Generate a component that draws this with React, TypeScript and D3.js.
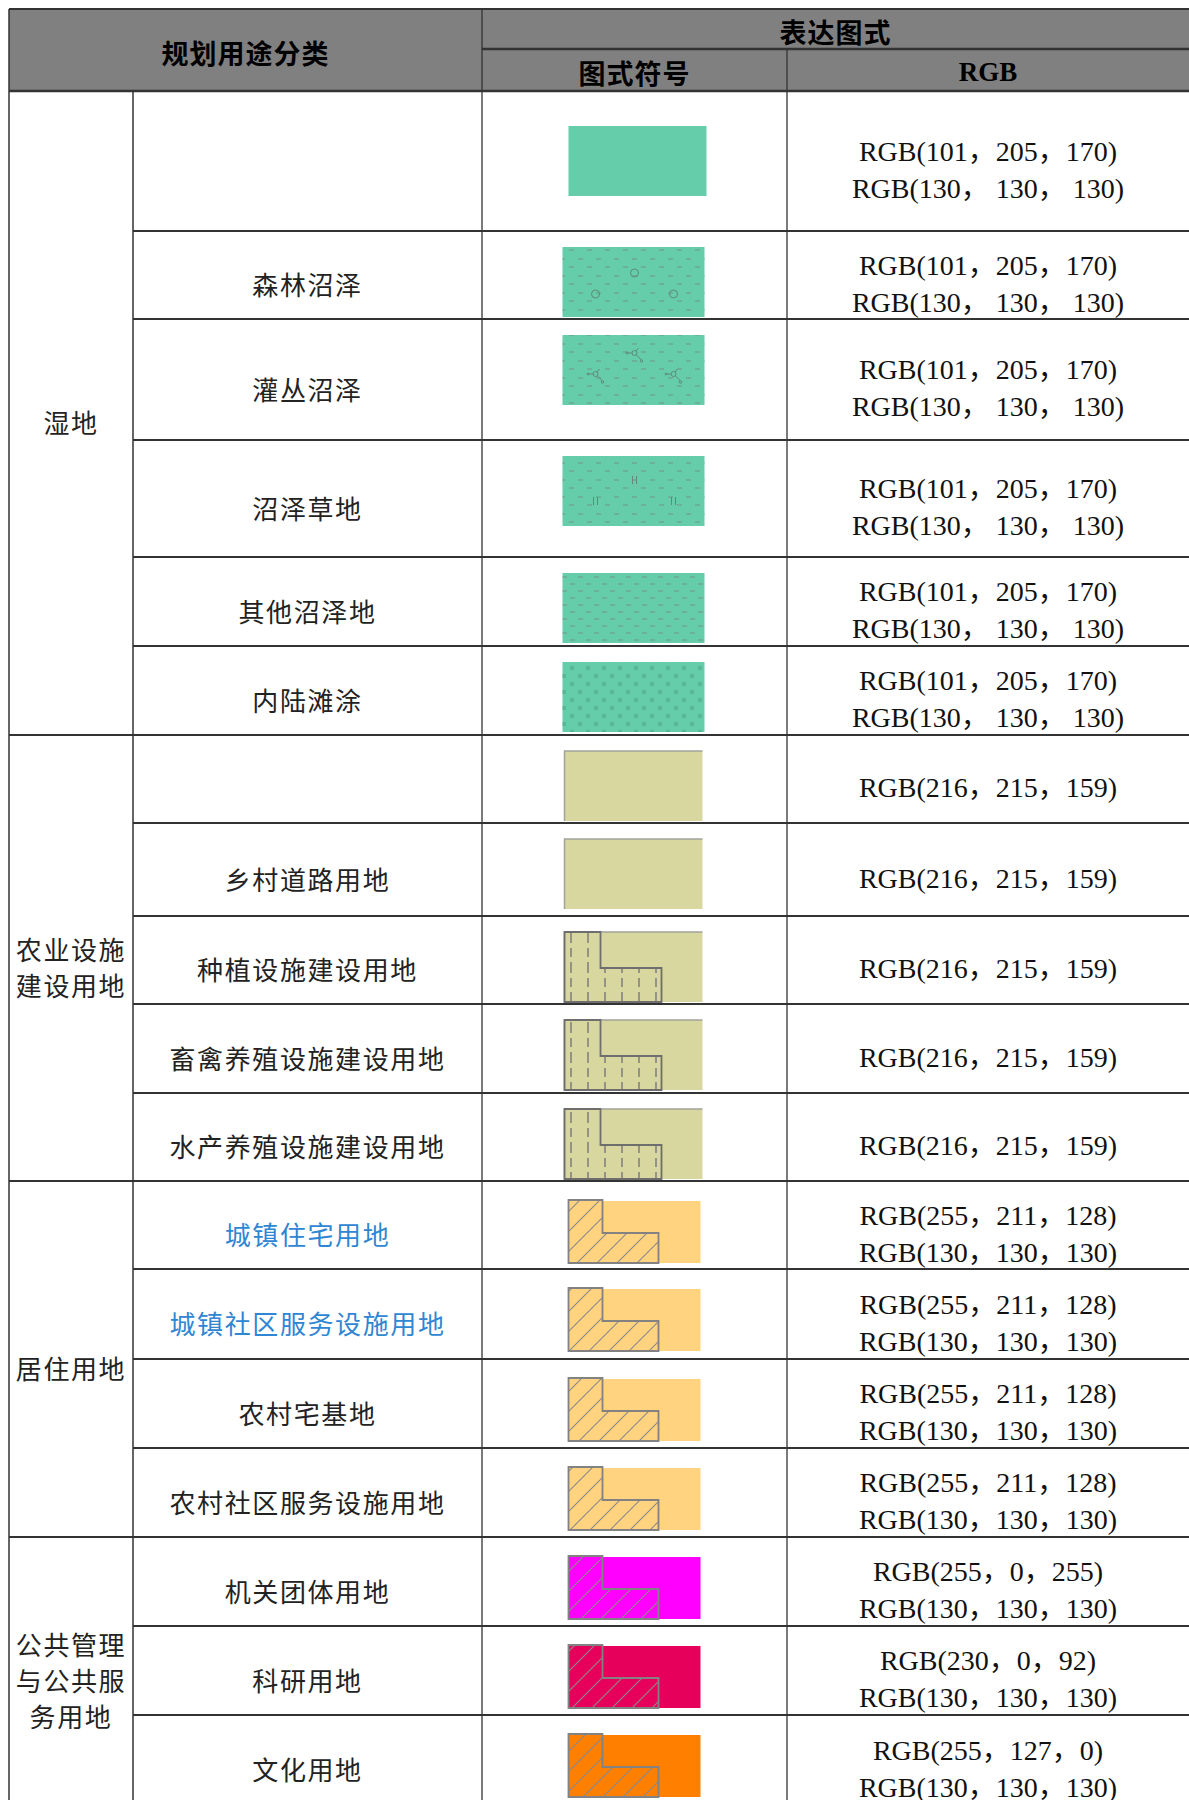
import * as d3 from 'd3'

// ---- table content ----
const headerMain = '规划用途分类'
const headerGroup = '表达图式'
const headerSymbol = '图式符号'
const headerRgb = 'RGB'

const groupNames = ['湿地', '农业设施\n建设用地', '居住用地', '公共管理\n与公共服\n务用地']
const groupSizes = [6, 5, 4, 3]

const subNames = [
  '', '森林沼泽', '灌丛沼泽', '沼泽草地', '其他沼泽地', '内陆滩涂',
  '', '乡村道路用地', '种植设施建设用地', '畜禽养殖设施建设用地', '水产养殖设施建设用地',
  '城镇住宅用地', '城镇社区服务设施用地', '农村宅基地', '农村社区服务设施用地',
  '机关团体用地', '科研用地', '文化用地',
]
const linkedNames = ['城镇住宅用地', '城镇社区服务设施用地']

const symbolKinds = [
  'wet', 'forest', 'shrub', 'grass', 'other', 'flat',
  'agri', 'agri', 'facility', 'facility', 'facility',
  'hatch', 'hatch', 'hatch', 'hatch',
  'hatch', 'hatch', 'hatch',
]

const fillRgb: [number, number, number][] = [
  [101, 205, 170], [101, 205, 170], [101, 205, 170], [101, 205, 170], [101, 205, 170], [101, 205, 170],
  [216, 215, 159], [216, 215, 159], [216, 215, 159], [216, 215, 159], [216, 215, 159],
  [255, 211, 128], [255, 211, 128], [255, 211, 128], [255, 211, 128],
  [255, 0, 255], [230, 0, 92], [255, 127, 0],
]

const rgbLines: string[][] = [
  ['RGB(101，205，170)', 'RGB(130， 130， 130)'],
  ['RGB(101，205，170)', 'RGB(130， 130， 130)'],
  ['RGB(101，205，170)', 'RGB(130， 130， 130)'],
  ['RGB(101，205，170)', 'RGB(130， 130， 130)'],
  ['RGB(101，205，170)', 'RGB(130， 130， 130)'],
  ['RGB(101，205，170)', 'RGB(130， 130， 130)'],
  ['RGB(216，215，159)'],
  ['RGB(216，215，159)'],
  ['RGB(216，215，159)'],
  ['RGB(216，215，159)'],
  ['RGB(216，215，159)'],
  ['RGB(255，211，128)', 'RGB(130，130，130)'],
  ['RGB(255，211，128)', 'RGB(130，130，130)'],
  ['RGB(255，211，128)', 'RGB(130，130，130)'],
  ['RGB(255，211，128)', 'RGB(130，130，130)'],
  ['RGB(255，0，255)', 'RGB(130，130，130)'],
  ['RGB(230，0，92)', 'RGB(130，130，130)'],
  ['RGB(255，127，0)', 'RGB(130，130，130)'],
]

// ---- layout ----
const W = 1189
const H = 1800
const colX = [9, 133, 482, 787, 1189]
const headerY = [9, 49, 91]
const rowHeights = [140, 88, 121, 117, 89, 89, 88, 93, 88, 89, 88, 88, 90, 89, 89, 89, 89, 90]

const cjk = "'Noto Sans CJK SC', sans-serif"
const serif = "'Liberation Serif', 'Noto Sans CJK SC', serif"
const lineColor = '#333'
const outline = 'rgb(130,130,130)'

const rowTops = [headerY[2], ...Array.from(d3.cumsum(rowHeights), v => headerY[2] + v)]
const groupStarts = [0, ...Array.from(d3.cumsum(groupSizes))]

const line = d3.line()

function Lines({ x, y, lines, size, family, fill = '#222', weight = 400, gap = 36, spacing = 0 }: any) {
  const y0 = y - ((lines.length - 1) * gap) / 2
  return (
    <text x={x} textAnchor="middle" dominantBaseline="central" fontFamily={family}
      fontSize={size} fontWeight={weight} fill={fill} letterSpacing={spacing}>
      {lines.map((t: string, i: number) => (
        <tspan key={i} x={x} y={y0 + i * gap}>{t}</tspan>
      ))}
    </text>
  )
}

function Swatch({ i }: { i: number }) {
  const kind = symbolKinds[i]
  const color = d3.rgb(...fillRgb[i]).toString()
  const top = rowTops[i]
  const h = rowHeights[i]
  const cx = (colX[2] + colX[3]) / 2

  if (kind === 'hatch') {
    const x0 = cx - 66, y0 = top + 19, w = 132, sh = 63
    const L: [number, number][] = [[0, 0], [34, 0], [34, 33], [90, 33], [90, sh], [0, sh]]
    const d = line(L.map(([a, b]) => [x0 + a, y0 + b]))! + 'Z'
    return (
      <g>
        <rect x={x0} y={y0 + 1} width={w} height={sh - 1} fill={color} />
        <clipPath id={`clipL${i}`}><path d={d} /></clipPath>
        <rect x={x0} y={y0} width={w} height={sh} fill="url(#hatch)" clipPath={`url(#clipL${i})`} />
        <path d={d} fill="none" stroke={outline} strokeWidth={1.8} />
      </g>
    )
  }

  if (kind === 'agri' || kind === 'facility') {
    const x0 = cx - 70, y0 = top + 16, w = 138, sh = 70
    const L: [number, number][] = [[0, 0], [36, 0], [36, 36], [97, 36], [97, sh], [0, sh]]
    const d = line(L.map(([a, b]) => [x0 + a, y0 + b]))! + 'Z'
    return (
      <g>
        <rect x={x0} y={y0} width={w} height={sh} fill={color} />
        <path d={`M${x0},${y0 + sh}V${y0}H${x0 + w}`} fill="none" stroke="#a3a39a" strokeWidth={1.5} />
        {kind === 'facility' && (
          <g>
            <clipPath id={`clipF${i}`}><path d={d} /></clipPath>
            <rect x={x0} y={y0} width={w} height={sh} fill="url(#facility)" clipPath={`url(#clipF${i})`} />
            <path d={d} fill="none" stroke="#6e6e6e" strokeWidth={1.8} />
          </g>
        )}
      </g>
    )
  }

  // wetland swatches
  const first = h > 130
  const sh = 70, w = first ? 138 : 142
  const x0 = first ? cx - 66 : cx - 72
  const y0 = first ? top + (h - sh) / 2 : top + 16
  const pat = kind === 'flat' ? 'url(#dots)' : kind === 'other' ? 'url(#dashB)' : 'url(#dashA)'
  const marks: [number, number][] = [[72, 26], [33, 47], [111, 47]]
  const mk = '#5f8a78'
  return (
    <g>
      <rect x={x0} y={y0} width={w} height={sh} fill={color} />
      {kind !== 'wet' && <rect x={x0} y={y0} width={w} height={sh} fill={pat} />}
      {kind === 'forest' && marks.map(([a, b], k) => (
        <circle key={k} cx={x0 + a} cy={y0 + b} r={4} fill="none" stroke={mk} strokeWidth={1} />
      ))}
      {kind === 'shrub' && marks.map(([a, b], k) => (
        <g key={k} transform={`translate(${x0 + a},${y0 + b - 8})`} stroke={mk} strokeWidth={1} fill="none">
          <circle r={2.5} />
          <path d="M-2.5,0H-7M1.5,-2L4,-5M2,2L5,5M5,5L7,7" />
          <circle cx={-7.5} cy={0} r={1} />
          <circle cx={7} cy={8} r={1.2} />
        </g>
      ))}
      {kind === 'grass' && marks.map(([a, b], k) => (
        <path key={k} d={`M${x0 + a - 2},${y0 + b - 6}v8M${x0 + a + 2},${y0 + b - 6}v8`} stroke={mk} strokeWidth={1} />
      ))}
    </g>
  )
}

export default function App() {
  const bodyRows = subNames.map((_, i) => i)
  const tableBottom = rowTops[rowTops.length - 1]

  return (
    <div style={{ position: 'absolute', left: 0, top: 0 }}>
      <svg width={W} height={H} style={{ display: 'block', background: '#fff' }}>
        <defs>
          <pattern id="hatch" patternUnits="userSpaceOnUse" width={20} height={20}>
            <path d="M-5,5L5,-5M0,20L20,0M15,25L25,15" stroke="#8a8a8a" strokeWidth={1.1} />
          </pattern>
          <pattern id="facility" patternUnits="userSpaceOnUse" width={17} height={30} x={1}>
            <path d="M9,2v11M9,18v9" stroke="#777" strokeWidth={1.4} />
          </pattern>
          <pattern id="dashA" patternUnits="userSpaceOnUse" width={18} height={17}>
            <path d="M2,4h5M11,12h5" stroke="#6f9584" strokeWidth={1} />
          </pattern>
          <pattern id="dashB" patternUnits="userSpaceOnUse" width={16} height={14}>
            <path d="M2,3h5M10,10h5" stroke="#6f9584" strokeWidth={1} />
          </pattern>
          <pattern id="dots" patternUnits="userSpaceOnUse" width={16} height={16}>
            <circle cx={4} cy={4} r={2.3} fill="#52b28f" opacity={0.8} />
            <circle cx={12} cy={12} r={2.3} fill="#52b28f" opacity={0.8} />
          </pattern>
        </defs>

        {/* header */}
        <rect x={colX[0]} y={headerY[0]} width={W - colX[0]} height={headerY[2] - headerY[0]} fill="#808080" />
        <Lines x={(colX[0] + colX[2]) / 2} y={(headerY[0] + headerY[2]) / 2 + 2} lines={[headerMain]}
          size={27} family={cjk} weight={700} fill="#000" spacing={1} />
        <Lines x={(colX[2] + colX[4]) / 2} y={(headerY[0] + headerY[1]) / 2 + 2} lines={[headerGroup]}
          size={27} family={cjk} weight={700} fill="#000" spacing={1} />
        <Lines x={(colX[2] + colX[3]) / 2} y={(headerY[1] + headerY[2]) / 2 + 2} lines={[headerSymbol]}
          size={27} family={cjk} weight={700} fill="#000" spacing={1} />
        <Lines x={(colX[3] + colX[4]) / 2} y={(headerY[1] + headerY[2]) / 2 + 2} lines={[headerRgb]}
          size={27} family={serif} weight={700} fill="#000" />

        {/* swatches */}
        {bodyRows.map(i => <Swatch key={i} i={i} />)}

        {/* texts */}
        {groupNames.map((g, k) => {
          const y = (rowTops[groupStarts[k]] + rowTops[groupStarts[k + 1]]) / 2 + 8
          return <Lines key={k} x={(colX[0] + colX[1]) / 2} y={y} lines={g.split('\n')}
            size={26} family={cjk} spacing={1.6} />
        })}
        {bodyRows.map(i => {
          const cy = rowTops[i] + rowHeights[i] / 2 + 8
          return (
            <g key={i}>
              {subNames[i] && (
                <Lines x={(colX[1] + colX[2]) / 2} y={cy} lines={[subNames[i]]} size={26} family={cjk}
                  spacing={1.6} fill={linkedNames.includes(subNames[i]) ? '#2f86d2' : '#222'} />
              )}
              <Lines x={(colX[3] + colX[4]) / 2} y={cy} lines={rgbLines[i]} size={28} family={serif}
                fill="#111" gap={37} />
            </g>
          )
        })}

        {/* grid lines */}
        <g stroke={lineColor}>
          <line x1={colX[0]} x2={W} y1={headerY[0]} y2={headerY[0]} strokeWidth={2} />
          <line x1={colX[2]} x2={W} y1={headerY[1]} y2={headerY[1]} strokeWidth={2.5} />
          <line x1={colX[0]} x2={W} y1={headerY[2]} y2={headerY[2]} strokeWidth={2.5} />
          {rowTops.slice(1).map((y, k) => {
            const full = groupStarts.includes(k + 1)
            return <line key={k} x1={full ? colX[0] : colX[1]} x2={W} y1={y} y2={y} strokeWidth={2} />
          })}
          <line x1={colX[0]} x2={colX[0]} y1={headerY[0]} y2={tableBottom} strokeWidth={1.5} />
          <line x1={colX[1]} x2={colX[1]} y1={headerY[2]} y2={tableBottom} strokeWidth={1.5} />
          <line x1={colX[2]} x2={colX[2]} y1={headerY[0]} y2={tableBottom} strokeWidth={1.3} />
          <line x1={colX[3]} x2={colX[3]} y1={headerY[1]} y2={tableBottom} strokeWidth={1.3} />
        </g>
      </svg>
    </div>
  )
}
